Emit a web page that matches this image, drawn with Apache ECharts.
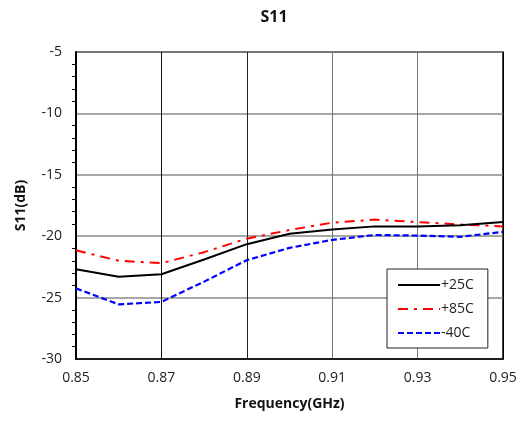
<!DOCTYPE html>
<html><head><meta charset="utf-8">
<script src="https://cdn.jsdelivr.net/npm/echarts@6/dist/echarts.min.js"></script>
<style>html,body{margin:0;padding:0;background:#fff}#c{width:525px;height:424px}</style>
</head><body><div id="c"></div>
<script>
const freq = [0.85, 0.86, 0.87, 0.88, 0.89, 0.90, 0.91, 0.92, 0.93, 0.94, 0.95];
const s25 = [-22.7, -23.3, -23.1, -21.9, -20.65, -19.8, -19.45, -19.2, -19.2, -19.1, -18.85];
const s85 = [-21.15, -22.0, -22.2, -21.3, -20.2, -19.5, -18.9, -18.65, -18.85, -19.05, -19.2];
const sm40 = [-24.25, -25.55, -25.35, -23.7, -21.95, -20.95, -20.3, -19.9, -19.95, -20.05, -19.65];
const xTicks = [0.85, 0.87, 0.89, 0.91, 0.93, 0.95];
const yTicks = [-30, -25, -20, -15, -10, -5];
const names = ['+25C', '+85C', '-40C'];

const FONT = '"Open Sans", "Noto Sans", sans-serif';
const pair = a => freq.map((f, i) => [f, a[i]]);
const chart = echarts.init(document.getElementById('c'), null, {renderer: 'canvas'});
chart.setOption({
  animation: false,
  textStyle: {fontFamily: FONT},
  title: {text: 'S11', left: 269, top: 4, textAlign: 'center',
    textStyle: {fontSize: 16, fontWeight: 'bold', color: '#111', fontFamily: FONT}},
  grid: {left: 76, right: 22, top: 52, bottom: 65, show: true, borderColor: '#000', borderWidth: 1.5, backgroundColor: 'transparent'},
  xAxis: {
    type: 'value', min: xTicks[0], max: xTicks[xTicks.length - 1], interval: 0.02,
    name: 'Frequency(GHz)', nameLocation: 'middle', nameGap: 38,
    nameTextStyle: {fontSize: 14, fontWeight: 'bold', color: '#111', fontFamily: FONT},
    axisLine: {lineStyle: {color: '#000', width: 1.5}},
    axisTick: {show: false},
    axisLabel: {fontSize: 14, color: '#222', margin: 12, formatter: v => v.toFixed(2)},
    splitLine: {show: true, lineStyle: {color: ['#000', '#111', '#222', '#777', '#777', '#000'], width: 1}}
  },
  yAxis: {
    type: 'value', min: yTicks[0], max: yTicks[yTicks.length - 1], interval: 5,
    name: 'S11(dB)', nameLocation: 'middle', nameGap: 48, nameRotate: 90,
    nameTextStyle: {fontSize: 14, fontWeight: 'bold', color: '#111', fontFamily: FONT},
    axisLine: {lineStyle: {color: '#000', width: 2}},
    axisTick: {show: false},
    minorTick: {show: true, splitNumber: 5, length: 4, lineStyle: {color: '#000', width: 1}},
    axisLabel: {fontSize: 14, color: '#222', margin: 14},
    splitLine: {show: true, lineStyle: {color: '#8a8a8a', width: 1.5}}
  },
  legend: {
    orient: 'vertical', left: 387, top: 269, width: 100,
    backgroundColor: '#fff', borderColor: '#222', borderWidth: 1,
    padding: [9, 14, 8, 10], itemGap: 10, itemWidth: 42, itemHeight: 12,
    itemStyle: {opacity: 0},
    textStyle: {fontSize: 14, color: '#222', fontFamily: FONT, padding: [0, 0, 0, -4]},
    data: names
  },
  series: [
    {name: names[0], type: 'line', data: pair(s25), showSymbol: false, symbol: 'none', z: 3,
      lineStyle: {color: '#000', width: 2, type: 'solid'}, itemStyle: {color: '#000'}},
    {name: names[1], type: 'line', data: pair(s85), showSymbol: false, symbol: 'none', z: 2,
      lineStyle: {color: '#f00', width: 2, type: [10, 6, 3, 6]}, itemStyle: {color: '#f00'}},
    {name: names[2], type: 'line', data: pair(sm40), showSymbol: false, symbol: 'none', z: 2,
      lineStyle: {color: '#00f', width: 2.2, type: [6, 3]}, itemStyle: {color: '#00f'}}
  ]
});
</script></body></html>
